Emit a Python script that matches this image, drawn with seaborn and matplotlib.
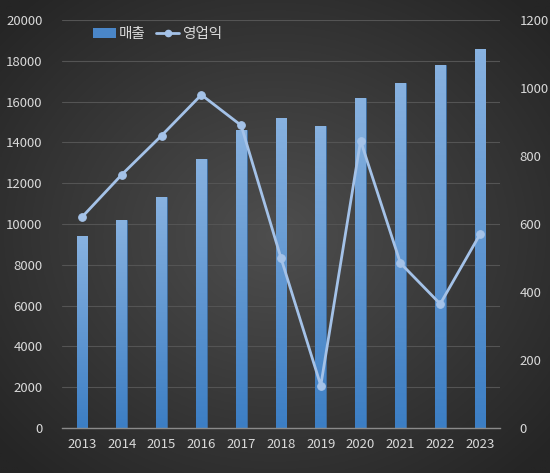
import numpy as np
import pandas as pd
import matplotlib
matplotlib.use("Agg")
import matplotlib.pyplot as plt
import seaborn as sns
from matplotlib.patches import Patch
from matplotlib.lines import Line2D

years = ["2013", "2014", "2015", "2016", "2017", "2018", "2019", "2020", "2021", "2022", "2023"]
sales = [9400, 10200, 11300, 13200, 14600, 15200, 14800, 16200, 16900, 17800, 18600]
op_profit = [620, 745, 860, 980, 890, 500, 125, 845, 485, 365, 570]
left_ticks = list(range(0, 20001, 2000))
right_ticks = list(range(0, 1201, 200))

sns.set_theme(style="dark")
plt.rcParams['font.family'] = ['Noto Sans CJK KR', 'DejaVu Sans']

txt = "#d9d9d9"
bar_col = "#4a86c8"
line_col = "#a4c2e8"

fig = plt.figure(figsize=(5.5, 4.73), dpi=100)
# radial background gradient
bg = fig.add_axes([0, 0, 1, 1], zorder=-10)
yy, xx = np.mgrid[-1:1:300j, -1:1:300j]
r = np.sqrt(xx**2 + yy**2)
r = np.clip(r / 1.35, 0, 1)
c0 = np.array([0x4e, 0x4e, 0x4e]) / 255
c1 = np.array([0x25, 0x25, 0x25]) / 255
img = c0[None, None, :] * (1 - r[..., None]) + c1[None, None, :] * r[..., None]
bg.imshow(img, aspect="auto", extent=[0, 1, 0, 1])
bg.axis("off")

ax = fig.add_axes([0.1127, 0.0951, 0.909 - 0.1127, 0.9577 - 0.0951])
ax.patch.set_alpha(0)
df = pd.DataFrame({"year": years, "sales": sales, "op": op_profit})
sns.barplot(data=df, x="year", y="sales", ax=ax, color=bar_col, width=0.27,
            saturation=1, zorder=2)

# gradient fill on bars
grad = np.linspace(0, 1, 100)[:, None]
top = np.array([0x88, 0xb2, 0xe0]) / 255
bot = np.array([0x3c, 0x7e, 0xc4]) / 255
gimg = top[None, None, :] * (1 - grad[..., None]) + bot[None, None, :] * grad[..., None]
for p in ax.patches:
    x0, y0 = p.get_x(), p.get_y()
    w, h = p.get_width(), p.get_height()
    im = ax.imshow(gimg, extent=[x0, x0 + w, y0, y0 + h], aspect="auto", zorder=2.5)
    im.set_clip_path(p)
    p.set_edgecolor("#3d6fa5")
    p.set_linewidth(0.5)

ax.set_ylim(0, 20000)
ax.set_xlim(-0.5, len(years) - 0.5)
ax.set_yticks(left_ticks)
ax.set_yticklabels([str(t) for t in left_ticks])
ax.grid(axis="y", color="#545454", linewidth=0.8, zorder=0)
ax.grid(axis="x", visible=False)
ax.set_axisbelow(True)
for s in ["top", "right", "left"]:
    ax.spines[s].set_visible(False)
ax.spines["bottom"].set_color("#8a8a8a")
ax.spines["bottom"].set_linewidth(1.0)
ax.tick_params(axis="both", colors=txt, labelsize=9.5, length=0)
ax.tick_params(axis="y", pad=14)
ax.tick_params(axis="x", pad=7)
ax.set_xlabel("")
ax.set_ylabel("")

ax2 = ax.twinx()
sns.lineplot(data=df, x="year", y="op", ax=ax2, color=line_col, linewidth=2.0,
             marker="o", markersize=5.5, markeredgecolor=line_col, sort=False, zorder=5)
ax2.set_ylim(0, 1200)
ax2.set_yticks(right_ticks)
ax2.set_yticklabels([str(t) for t in right_ticks])
ax2.grid(False)
for s in ["top", "right", "left", "bottom"]:
    ax2.spines[s].set_visible(False)
ax2.tick_params(axis="y", colors=txt, labelsize=9.5, length=0, pad=14)
ax2.set_ylabel("")
ax2.set_xlabel("")

handles = [Patch(facecolor=bar_col, edgecolor="none"),
           Line2D([0], [0], color=line_col, linewidth=2.0, marker="o", markersize=4.5)]
leg = ax2.legend(handles, ["매출", "영업익"], loc="upper left", bbox_to_anchor=(0.04, 1.015),
                 ncol=2, frameon=False, fontsize=10.5, handlelength=1.6, handletextpad=0.2,
                 columnspacing=0.7, labelcolor=txt)

fig.savefig("out.png", dpi=100)
